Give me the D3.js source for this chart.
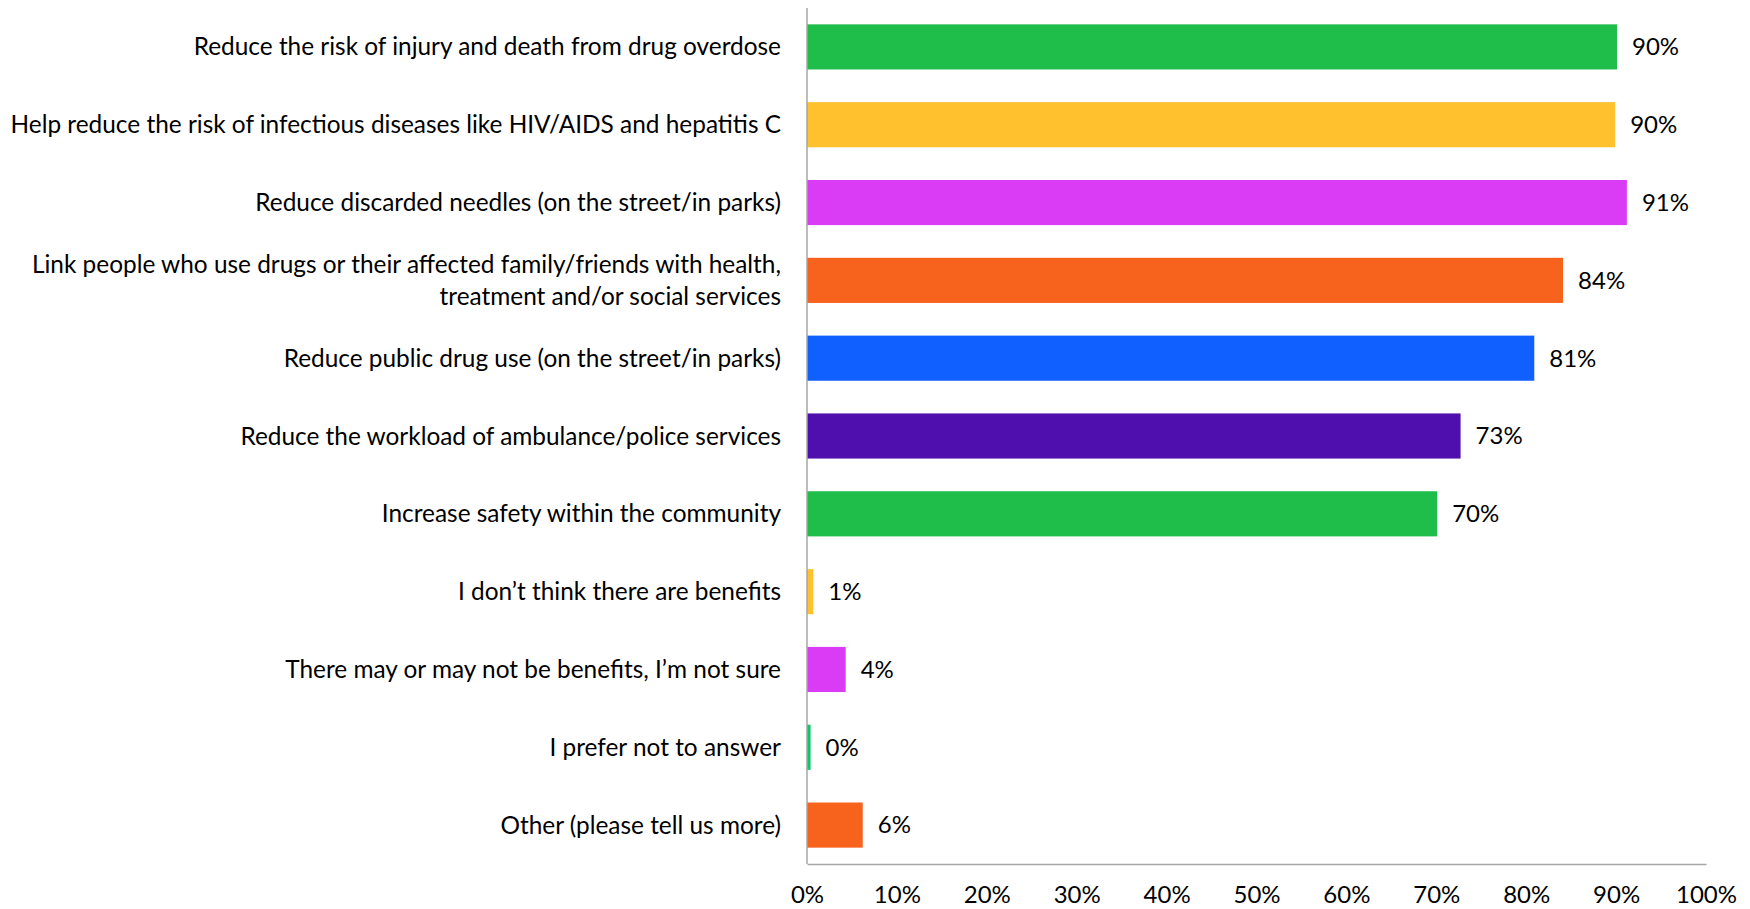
<!DOCTYPE html>
<html>
<head>
<meta charset="utf-8">
<script src="https://cdn.jsdelivr.net/npm/d3@7"></script>
<style>
  html, body { margin: 0; padding: 0; background: #fff; }
  svg text { font-family: Lato, "Open Sans", sans-serif; fill: #000; }
</style>
</head>
<body>
<svg id="chart" width="1750" height="909"></svg>
<script>
// Survey responses: perceived benefits
const categories = [
  "Reduce the risk of injury and death from drug overdose",
  "Help reduce the risk of infectious diseases like HIV/AIDS and hepatitis C",
  "Reduce discarded needles (on the street/in parks)",
  "Link people who use drugs or their affected family/friends with health,\ntreatment and/or social services",
  "Reduce public drug use (on the street/in parks)",
  "Reduce the workload of ambulance/police services",
  "Increase safety within the community",
  "I don’t think there are benefits",
  "There may or may not be benefits, I’m not sure",
  "I prefer not to answer",
  "Other (please tell us more)"
];
const values = [0.901, 0.899, 0.912, 0.841, 0.809, 0.727, 0.701, 0.007, 0.043, 0.004, 0.062];
const colors = ["#1FBE4B", "#FFC22E", "#DA3CF5", "#F7621D", "#105FFF", "#4E0FAE",
                "#1FBE4B", "#FFC22E", "#DA3CF5", "#12C46E", "#F7621D"];
const tickValues = [0, 0.1, 0.2, 0.3, 0.4, 0.5, 0.6, 0.7, 0.8, 0.9, 1.0];

const fontSize = 24;
const catFontSize = 24.4;
const margin = { left: 807, right: 44, top: 8, bottom: 45 };
const W = 1750, H = 909;

const svg = d3.select("#chart");

const x = d3.scaleLinear().domain([0, 1]).range([margin.left, W - margin.right]);
const y = d3.scaleBand().domain(categories).range([margin.top, H - margin.bottom])
  .paddingInner(0.42).paddingOuter(0.21);

const fmt = d3.format(".0%");

// Bars
svg.append("g").selectAll("rect")
  .data(categories)
  .join("rect")
  .attr("x", x(0))
  .attr("y", d => y(d))
  .attr("width", (d, i) => x(values[i]) - x(0))
  .attr("height", y.bandwidth())
  .attr("fill", (d, i) => colors[i]);

// Value labels
svg.append("g").selectAll("text")
  .data(categories)
  .join("text")
  .attr("x", (d, i) => x(values[i]) + 15)
  .attr("y", d => y(d) + y.bandwidth() / 2)
  .attr("dy", "0.35em")
  .attr("font-size", fontSize)
  .text((d, i) => fmt(values[i]));

// Category axis (left)
const yAxis = svg.append("g")
  .attr("transform", `translate(${x(0)},0)`)
  .call(d3.axisLeft(y).tickSize(0).tickPadding(26).tickFormat(""));
yAxis.select(".domain").attr("stroke", "#A6A6A6").attr("stroke-width", 1.5)
  .attr("d", `M0,${margin.top}V${H - margin.bottom}`);

yAxis.selectAll(".tick").each(function(d) {
  const lines = d.split("\n");
  const t = d3.select(this).select("text")
    .attr("font-size", catFontSize)
    .attr("text-anchor", "end")
    .attr("x", -26)
    .attr("dy", null)
    .attr("y", 0);
  const lh = 32;
  lines.forEach((ln, k) => {
    t.append("tspan")
      .attr("x", -26)
      .attr("y", (k - (lines.length - 1) / 2) * lh)
      .attr("dy", "0.35em")
      .text(ln);
  });
});

// Value axis (bottom)
const xAxis = svg.append("g")
  .attr("transform", `translate(0,${H - margin.bottom})`)
  .call(d3.axisBottom(x).tickValues(tickValues).tickFormat(fmt).tickSize(0).tickPadding(22));
xAxis.select(".domain").attr("stroke", "#A6A6A6").attr("stroke-width", 1.5);
xAxis.selectAll("text").attr("font-size", fontSize).attr("dy", "0.71em");
</script>
</body>
</html>
